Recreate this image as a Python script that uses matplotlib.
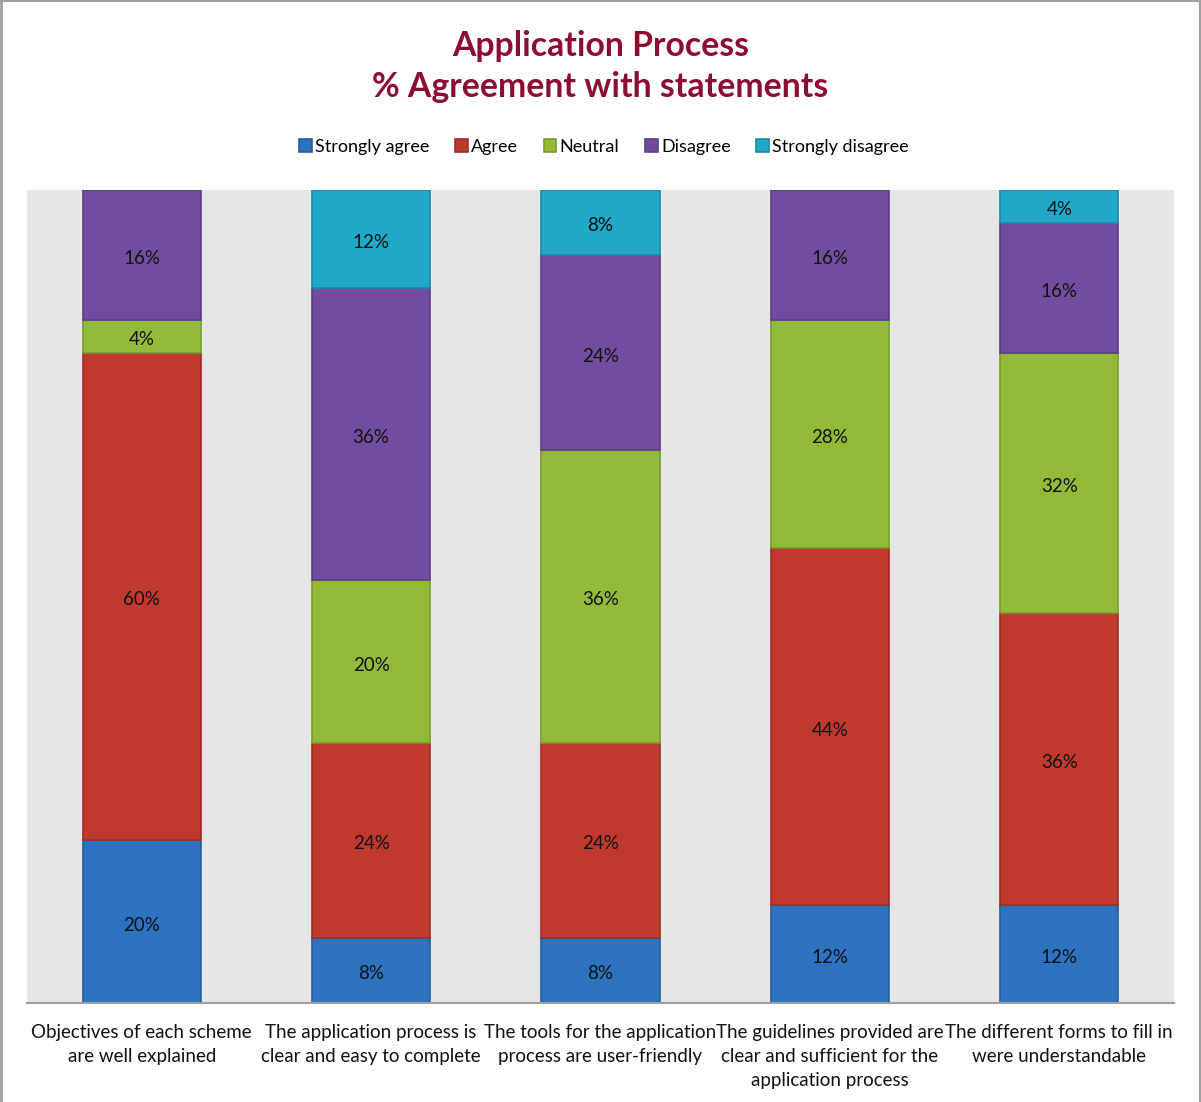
import matplotlib
matplotlib.use("Agg")
import matplotlib.pyplot as plt
from matplotlib.patches import Patch
import numpy as np

categories = [
    "Objectives of each scheme\nare well explained",
    "The application process is\nclear and easy to complete",
    "The tools for the application\nprocess are user-friendly",
    "The guidelines provided are\nclear and sufficient for the\napplication process",
    "The different forms to fill in\nwere understandable",
]
series_names = ["Strongly agree", "Agree", "Neutral", "Disagree", "Strongly disagree"]
strongly_agree = [20, 8, 8, 12, 12]
agree = [60, 24, 24, 44, 36]
neutral = [4, 20, 36, 28, 32]
disagree = [16, 36, 24, 16, 16]
strongly_disagree = [0, 12, 8, 0, 4]

values = [strongly_agree, agree, neutral, disagree, strongly_disagree]
fills = ["#2C72BE", "#C0392F", "#92B938", "#704D9E", "#21A7C8"]
edges = ["#255F9E", "#9E2F27", "#789A2E", "#5C3F84", "#1A8AA6"]

plt.rcParams["font.family"] = ["Lato", "DejaVu Sans"]

fig = plt.figure(figsize=(12.01, 11.02), dpi=100)
ax = fig.add_axes([0.0225, 0.0898, 0.955, 0.7378])
ax.set_facecolor("#E6E6E6")

x = np.arange(len(categories))
bottom = np.zeros(len(categories))
for name, vals, fc, ec in zip(series_names, values, fills, edges):
    vals = np.array(vals, dtype=float)
    bars = ax.bar(x, vals, width=0.515, bottom=bottom, color=fc,
                  edgecolor=ec, linewidth=1.2, label=name, zorder=2)
    # empty segments leave no outline behind
    for patch, v in zip(bars.patches, vals):
        if v == 0:
            patch.set_visible(False)
    for xi, b, v in zip(x, bottom, vals):
        if v > 0:
            ax.annotate(f"{int(v)}%", (xi, b + v / 2), xytext=(0, -2.5),
                        textcoords="offset points", ha="center", va="center",
                        fontsize=13.5, color="#111111", zorder=3)
    bottom += vals

ax.set_xlim(-0.5, len(categories) - 0.5)
ax.set_ylim(0, 100)
ax.set_yticks([])
ax.set_xticks(x)
ax.set_xticklabels(categories, fontsize=13.5, color="#111111", linespacing=1.5)
ax.tick_params(axis="x", length=0, pad=15)
for side in ("top", "left", "right"):
    ax.spines[side].set_visible(False)
ax.spines["bottom"].set_color("#A0A0A0")
ax.spines["bottom"].set_linewidth(1.5)

fig.text(0.5, 0.958, "Application Process", ha="center", va="center",
         fontsize=24.3, fontweight="bold", color="#8B0D2F")
fig.text(0.5, 0.921, "% Agreement with statements", ha="center", va="center",
         fontsize=24.3, fontweight="bold", color="#8B0D2F")

legend_handles = [Patch(facecolor=fc, edgecolor=ec, linewidth=1.2)
                  for fc, ec in zip(fills, edges)]
fig.legend(handles=legend_handles, labels=series_names, loc="center",
           bbox_to_anchor=(0.503, 0.867), ncol=5, frameon=False,
           fontsize=13, handlelength=0.7, handleheight=0.7,
           handletextpad=0.2, columnspacing=1.4)

# Figure border (top, left, right)
fig.add_artist(plt.Line2D([0.001, 0.001], [0, 1], transform=fig.transFigure,
                          color="#A0A0A0", linewidth=2))
fig.add_artist(plt.Line2D([0.999, 0.999], [0, 1], transform=fig.transFigure,
                          color="#A0A0A0", linewidth=1.5))
fig.add_artist(plt.Line2D([0, 1], [0.999, 0.999], transform=fig.transFigure,
                          color="#A0A0A0", linewidth=1.5))

fig.savefig("out.png", dpi=100, facecolor="white")
